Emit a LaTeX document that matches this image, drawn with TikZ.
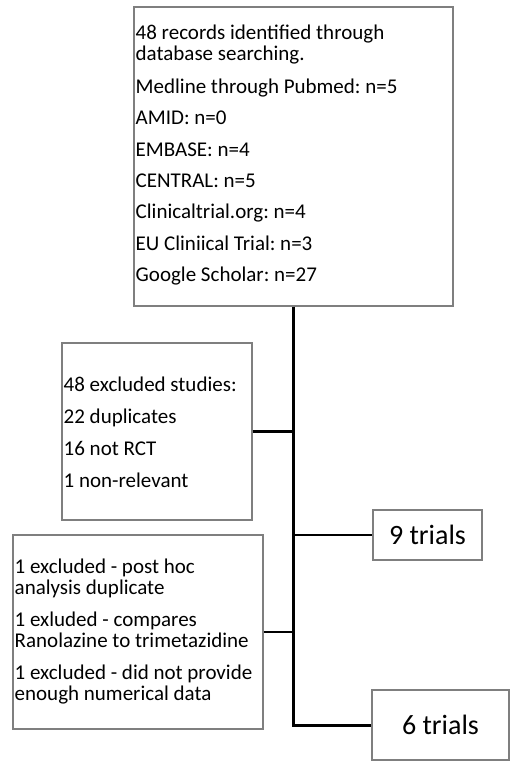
\documentclass[tikz,border=0pt]{standalone}
\usepackage{fontspec}
\setmainfont{Carlito}
\definecolor{boxgray}{HTML}{7F7F7F}
\frenchspacing
\begin{document}
\begin{tikzpicture}[x=1pt,y=-1pt,
  box/.style={draw=boxgray, line width=1.2pt, fill=white, inner sep=0pt},
  txt/.style={anchor=base west, inner sep=0pt, font=\fontsize{21}{21}\selectfont},
  big/.style={font=\fontsize{28}{28}\selectfont},
  link/.style={line width=2.6pt},
  trunk/.style={line width=3pt}]
\useasboundingbox (0,0) rectangle (516,761);
% boxes
\node[box, minimum width=319pt, minimum height=299pt] (top) at (293.5,156.5) {};
\node[box, minimum width=190pt, minimum height=177pt] (excl) at (157,431.5) {};
\node[box, minimum width=250pt, minimum height=194pt] (low) at (138,632) {};
\node[box, minimum width=109pt, minimum height=50pt, big] (nine) at (427.5,535) {9 trials};
\node[box, minimum width=137pt, minimum height=70pt, big] (six) at (440.5,725) {6 trials};
% top box text
\node[txt] (t1) at (135.5,39) {48 records identified through};
\node[txt] (t2) at (135.5,60) {database searching.};
\node[txt] (t3) at (135.5,93) {Medline through Pubmed: n=5};
\node[txt] (t4) at (135.5,124.5) {AMID: n=0};
\node[txt] (t5) at (135.5,156) {EMBASE: n=4};
\node[txt] (t6) at (135.5,187) {CENTRAL: n=5};
\node[txt] (t7) at (135.5,218.5) {Clinicaltrial.org: n=4};
\node[txt] (t8) at (135.5,250) {EU Cliniical Trial: n=3};
\node[txt] (t9) at (135.5,281.5) {Google Scholar: n=27};
% excluded box text
\node[txt] (e1) at (63.5,391) {48 excluded studies:};
\node[txt] (e2) at (63.5,423) {22 duplicates};
\node[txt] (e3) at (63.5,455) {16 not RCT};
\node[txt] (e4) at (63.5,487) {1 non-relevant};
% lower box text
\node[txt] (l1) at (14.5,573) {1 excluded - post hoc};
\node[txt] (l2) at (14.5,594) {analysis duplicate};
\node[txt] (l3) at (14.5,626) {1 exluded - compares};
\node[txt] (l4) at (14.5,647) {Ranolazine to trimetazidine};
\node[txt] (l5) at (14.5,679) {1 excluded - did not provide};
\node[txt] (l6) at (14.5,700) {enough numerical data};
% connectors
\draw[trunk] (top.south) |- (six.west);
\draw[link] (excl.east) -- (excl.east -| top.south);
\draw[link] (low.east) -- (low.east -| top.south);
\draw[link] (nine.west -| top.south) -- (nine.west);
\end{tikzpicture}
\end{document}
